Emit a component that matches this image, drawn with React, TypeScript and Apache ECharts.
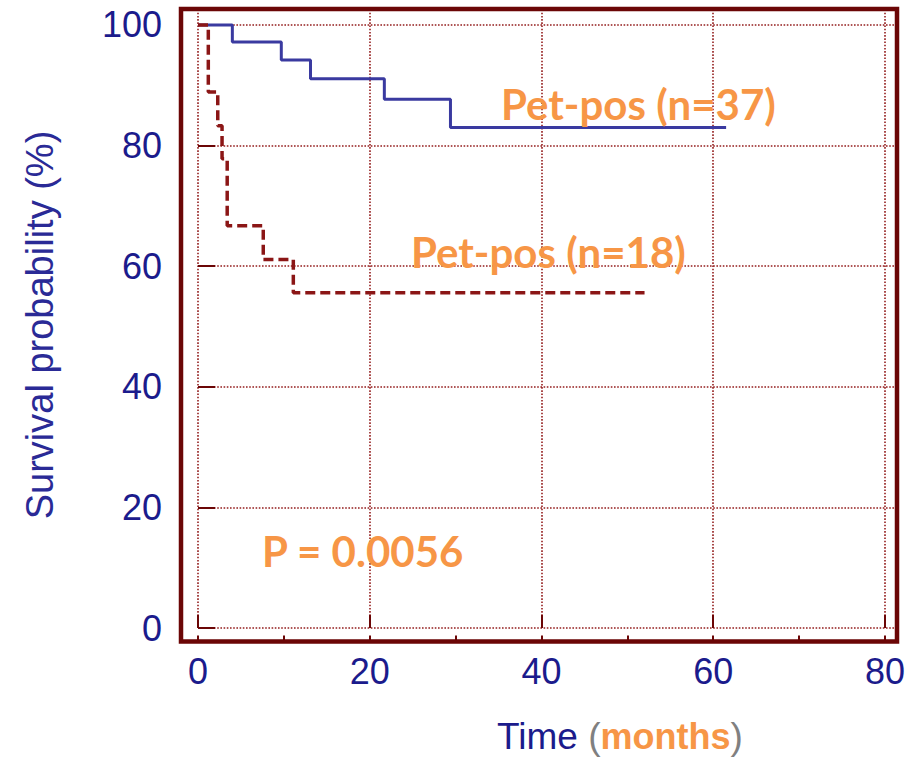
import React, { useEffect, useRef } from "react";
import * as echarts from "echarts";

// Kaplan-Meier curves: [time in months, survival %]
const posTimes37 = [0, 4.0, 9.7, 13.1, 21.7, 29.4, 61.5];
const posSurv37 = [100, 97.2, 94.2, 91.1, 87.7, 83.0, 83.0];

const posTimes18 = [0, 1.2, 2.3, 2.8, 3.4, 7.6, 11.1, 52.0];
const posSurv18 = [100, 88.9, 83.3, 77.8, 66.7, 61.1, 55.6, 55.6];

const xTicks = [0, 20, 40, 60, 80];
const yTicks = [0, 20, 40, 60, 80, 100];

const label37 = "Pet-pos (n=37)";
const label18 = "Pet-pos (n=18)";
const pLabel = "P = 0.0056";
const xTitleMain = "Time";
const xTitleUnit = "months";
const yTitle = "Survival probability (%)";

const NAVY = "#1B1B8C";
const MAROON = "#6B0606";
const GRIDRED = "#941E1E";
const ORANGE = "#F79646";

export default function App() {
  const ref = useRef<HTMLDivElement>(null);
  useEffect(() => {
    document.body.style.margin = "0";
    if (!ref.current) return;
    const chart = echarts.init(ref.current, null, { renderer: "svg" });

    const X_MAX = 81.4;
    const Y_MAX = 102.57;
    const hide = (list: number[]) => (v: number) =>
      list.some((t) => Math.abs(t - v) < 1e-6) ? String(v) : "";

    const option: any = {
      animation: false,
      backgroundColor: "#ffffff",
      grid: { left: 198, right: 25, top: 9.5, bottom: 132, containLabel: false },
      xAxis: [
        {
          type: "value",
          min: 0,
          max: X_MAX,
          interval: 20,
          position: "bottom",
          offset: 13.5,
          axisLine: { show: false },
          axisTick: { show: true, inside: true, length: 13, lineStyle: { color: MAROON, width: 2 } },
          axisLabel: {
            color: NAVY,
            fontSize: 36,
            fontFamily: "Liberation Sans",
            margin: 12,
            formatter: hide(xTicks),
          },
          splitLine: { show: true, lineStyle: { color: GRIDRED, width: 1.6, type: [1.6, 1.6] } },
        },
        {
          type: "value",
          min: 0,
          max: X_MAX,
          interval: 10,
          position: "bottom",
          offset: 13.5,
          axisLine: { show: false },
          axisTick: { show: true, inside: true, length: 6, lineStyle: { color: MAROON, width: 2 } },
          axisLabel: { show: false },
          splitLine: { show: false },
        },
      ],
      yAxis: [
        {
          type: "value",
          min: 0,
          max: Y_MAX,
          interval: 20,
          position: "left",
          offset: 17,
          axisLine: { show: false },
          axisTick: { show: true, inside: true, length: 17, lineStyle: { color: MAROON, width: 2 } },
          axisLabel: {
            color: NAVY,
            fontSize: 36,
            fontFamily: "Liberation Sans",
            margin: 19,
            formatter: hide(yTicks),
          },
          splitLine: { show: true, lineStyle: { color: GRIDRED, width: 1.6, type: [1.6, 1.6] } },
        },
      ],
      series: [
        {
          name: label37,
          type: "line",
          step: "end",
          xAxisIndex: 0,
          yAxisIndex: 0,
          showSymbol: false,
          symbol: "none",
          lineStyle: { color: "#3A3AA0", width: 3 },
          data: posTimes37.map((t, i) => [t, posSurv37[i]]),
          z: 5,
        },
        {
          name: label18,
          type: "line",
          step: "end",
          xAxisIndex: 0,
          yAxisIndex: 0,
          showSymbol: false,
          symbol: "none",
          lineStyle: { color: "#8B1616", width: 3.5, type: [10, 5] },
          data: posTimes18.map((t, i) => [t, posSurv18[i]]),
          z: 5,
        },
      ],
      graphic: [
        {
          type: "rect",
          z: 100,
          silent: true,
          shape: { x: 181, y: 9, width: 897 - 181, height: 641.5 - 9 },
          style: { fill: "none", stroke: MAROON, lineWidth: 4.5 },
        },
        {
          type: "text",
          z: 110,
          x: 501,
          y: 104,
          style: {
            text: label37,
            fill: ORANGE,
            font: "bold 42px Lato",
            align: "left",
            verticalAlign: "middle",
          },
        },
        {
          type: "text",
          z: 110,
          x: 411,
          y: 252,
          style: {
            text: label18,
            fill: ORANGE,
            font: "bold 42px Lato",
            align: "left",
            verticalAlign: "middle",
          },
        },
        {
          type: "text",
          z: 110,
          x: 262,
          y: 551,
          style: {
            text: pLabel,
            fill: ORANGE,
            font: "bold 42px Lato",
            align: "left",
            verticalAlign: "middle",
          },
        },
        {
          type: "text",
          z: 110,
          x: 497,
          y: 736,
          style: {
            text: `{a|${xTitleMain}\u00a0}{b|(}{c|${xTitleUnit}}{b|)}`,
            align: "left",
            verticalAlign: "middle",
            rich: {
              a: { fill: NAVY, fontSize: 37, fontFamily: "Liberation Sans" },
              b: { fill: "#808080", fontSize: 37, fontFamily: "Liberation Sans" },
              c: { fill: ORANGE, fontSize: 36, fontFamily: "Liberation Sans", fontWeight: "bold" },
            },
          },
        },
        {
          type: "text",
          z: 110,
          x: 40,
          y: 325,
          rotation: Math.PI / 2,
          style: {
            text: yTitle,
            fill: "#2A2A96",
            font: "38px Liberation Sans",
            align: "center",
            verticalAlign: "middle",
          },
        },
      ],
    };
    chart.setOption(option);
    return () => chart.dispose();
  }, []);
  return <div ref={ref} style={{ width: 922, height: 760 }} />;
}
